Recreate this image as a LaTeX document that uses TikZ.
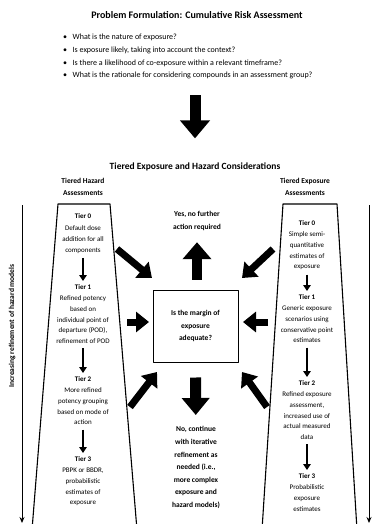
\documentclass[tikz,border=0pt]{standalone}
\usepackage{fontspec}
\setmainfont{Carlito}
\usetikzlibrary{arrows.meta}

\begin{document}
\begin{tikzpicture}[x=1pt, y=-1pt, line join=round,
    tier/.style={align=center, anchor=north, inner sep=0.5pt, font=\fontsize{7}{10.8}\selectfont},
    decision/.style={align=center, inner sep=0.5pt, font=\bfseries\fontsize{7.5}{12.6}\selectfont},
    tierarrow/.style={line width=2.6pt, -{Triangle[width=7.5pt,length=6pt]}},
    bigarrow/.style={line width=7pt, -{Triangle[width=20pt,length=13pt]}},
    sidearrow/.style={line width=0.9pt, -{Stealth[width=5pt,length=6pt]}}]
  \useasboundingbox (0,0) rectangle (375,524);

  % problem formulation
  \node[font=\bfseries\fontsize{10}{12}\selectfont] (title) at (197,15) {Problem Formulation: Cumulative Risk Assessment};
  \node[align=left, anchor=north west, inner sep=0pt, font=\fontsize{8}{12.7}\selectfont] (questions) at (63,34)
    {\textbullet\hspace{5.5pt}What is the nature of exposure?\\
     \textbullet\hspace{5.5pt}Is exposure likely, taking into account the context?\\
     \textbullet\hspace{5.5pt}Is there a likelihood of co-exposure within a relevant timeframe?\\
     \textbullet\hspace{5.5pt}What is the rationale for considering compounds in an assessment group?};
  \node[font=\bfseries\fontsize{9.5}{12}\selectfont] (tiered) at (195,167) {Tiered Exposure and Hazard Considerations};
  \draw[line width=11pt, -{Triangle[width=29pt,length=18pt]}, shorten <=16pt, shorten >=21pt] (questions.south -| tiered) -- (tiered);

  % the two columns
  \node[decision] (hazhead) at (83,187) {Tiered Hazard\\Assessments};
  \node[decision] (exphead) at (305,187) {Tiered Exposure\\Assessments};
  \draw[line width=1.1pt] (32,530) -- (58,204) -- (110,204) -- (137,530);
  \draw[line width=1.1pt] (262,530) -- (283,204) -- (337,204) -- (357,530);

  \node[tier] (h0) at (83,213) {\textbf{Tier 0}\\[1pt]Default dose\\addition for all\\components};
  \node[tier] (h1) at (83,284) {\textbf{Tier 1}\\Refined potency\\based on\\individual point of\\departure (POD),\\refinement of POD};
  \node[tier] (h2) at (83,376) {\textbf{Tier 2}\\More refined\\potency grouping\\based on mode of\\action};
  \node[tier] (h3) at (83,456) {\textbf{Tier 3}\\PBPK or BBDR,\\probabilistic\\estimates of\\exposure};
  \node[tier] (e0) at (307,220) {\textbf{Tier 0}\\Simple semi-\\quantitative\\estimates of\\exposure};
  \node[tier] (e1) at (307,294) {\textbf{Tier 1}\\Generic exposure\\scenarios using\\conservative point\\estimates};
  \node[tier] (e2) at (307,380) {\textbf{Tier 2}\\Refined exposure\\assessment,\\increased use of\\actual measured\\data};
  \node[tier] (e3) at (307,473) {\textbf{Tier 3}\\Probabilistic\\exposure\\estimates};
  \foreach \a/\b in {h0/h1, h1/h2, h2/h3, e0/e1, e1/e2, e2/e3}
    \draw[tierarrow, shorten <=4pt, shorten >=3pt] (\a.south) -- (\b.north);

  % margin decision
  \node[draw, line width=1pt, minimum width=85pt, minimum height=72pt, decision] (margin) at (195.5,326) {Is the margin of\\exposure\\adequate?};
  \node[decision] (yes) at (197,221) {Yes, no further\\action required};
  \node[decision, anchor=north] (no) at (196,426) {No, continue\\with iterative\\refinement as\\needed (i.e.,\\more complex\\exposure and\\hazard models)};
  \draw[line width=10pt, -{Triangle[width=28pt,length=17pt]}, shorten <=10pt, shorten >=11pt] (margin.north -| yes) -- (yes);
  \draw[line width=11pt, -{Triangle[width=27pt,length=17pt]}, shorten <=15pt, shorten >=11pt] (margin.south) -- (no);

  % arrows into the decision
  \foreach \sx/\sy/\ex/\ey [count=\i] in {117/249/152/278, 273/249/242/278, 127/322/149/322,
      268/322/243/322, 130/407/157/372, 267/407/242/372} {
    \coordinate (from\i) at (\sx,\sy);
    \coordinate (to\i) at (\ex,\ey);
    \draw[bigarrow] (from\i) -- (to\i);
  }

  % refinement axes
  \coordinate (hztop) at (22,205);
  \coordinate (hzbot) at (22,523);
  \coordinate (extop) at (369,205);
  \coordinate (exbot) at (369,523);
  \draw[sidearrow] (hztop) -- (hzbot);
  \draw[sidearrow] (extop) -- (exbot);
  \node[rotate=90, font=\bfseries\fontsize{7.5}{9}\selectfont] (hzlabel) at (12,326) {Increasing refinement of hazard models};
\end{tikzpicture}
\end{document}
